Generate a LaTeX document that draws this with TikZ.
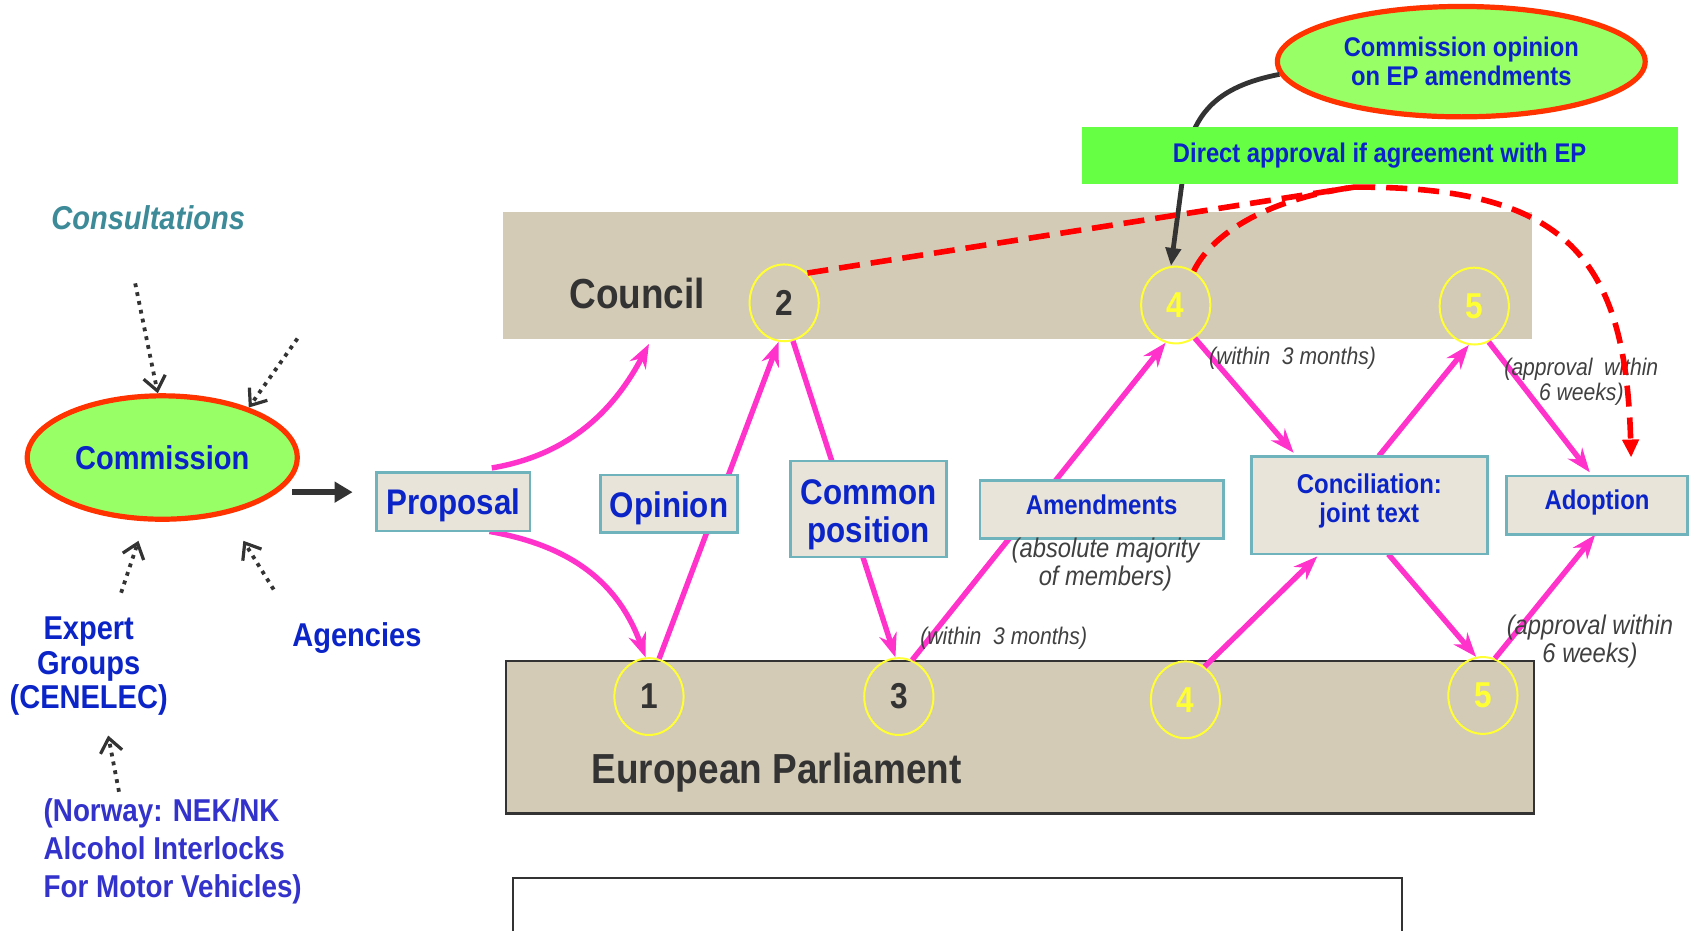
\documentclass[tikz,border=0pt]{standalone}
\usepackage{fontspec}
\setmainfont{Liberation Sans}[FakeStretch=0.88]
\usetikzlibrary{arrows.meta,shapes.geometric,calc}
\definecolor{pinkc}{HTML}{FF33CC}
\definecolor{bandc}{HTML}{D4CBB6}
\definecolor{boxc}{HTML}{E8E4DA}
\definecolor{boxb}{HTML}{6FB3BC}
\definecolor{bluet}{HTML}{0B24C8}
\definecolor{greenl}{HTML}{99FF66}
\definecolor{redb}{HTML}{FF3300}
\definecolor{greenr}{HTML}{66FF44}
\definecolor{tealt}{HTML}{3D8A99}
\definecolor{darkt}{HTML}{333333}
\definecolor{purplet}{HTML}{3333CC}
\definecolor{yel}{HTML}{FFFF33}
\definecolor{labt}{HTML}{404040}
\newcommand{\fsz}[2]{\fontsize{#1}{#2}\selectfont}
\begin{document}
\begin{tikzpicture}[x=0.5408pt,y=-0.5408pt,
  band/.style={fill=bandc, draw=none, inner sep=0pt},
  boxn/.style={rectangle, fill=boxc, draw=boxb, line width=1.3pt, inner sep=0pt},
  boxt/.style={text=bluet, align=center, inner sep=0pt},
  circn/.style={ellipse, draw=yel, line width=1pt, minimum width=34.6pt, minimum height=38.4pt, inner sep=0pt, font=\bfseries\fsz{18}{20}},
  pinkarr/.style={draw=pinkc, line width=2.7pt, -{Stealth[length=12pt,width=9pt]}},
  reddash/.style={draw=red, line width=2.8pt, dash pattern=on 10.5pt off 5.5pt},
  dotarr/.style={draw=darkt, line width=1.9pt, dash pattern=on 1.9pt off 2.6pt, -{Straight Barb[length=7pt,width=11pt,line width=1.6pt]}},
  lab/.style={text=labt, font=\itshape, align=center, inner sep=0pt},
  oval/.style={ellipse, fill=greenl, draw=redb, line width=2.6pt, text=bluet, font=\bfseries, align=center, inner sep=0pt}
]
\useasboundingbox (0,0) rectangle (1568,860);

% bands
\node[band, minimum width=514.3pt, minimum height=63.3pt] (council) at (940.5,254.5) {};
\node[fill=bandc, draw=darkt, line width=1.1pt, inner sep=0pt, minimum width=513.8pt, minimum height=76.3pt] (ep) at (943,681.5) {};
\node[text=darkt, font=\bfseries\fsz{21}{25}] (counciltxt) at (589,271) {Council};
\node[text=darkt, font=\bfseries\fsz{21}{25}] (eptxt) at (718,714) {European Parliament};

% bottom empty frame
\draw[darkt, line width=0.8pt] (474,870) -- (474,812) -- (1296,812) -- (1296,870);

% circles
\node[circn, text=darkt] (C2) at (725,280) {2};
\node[circn, text=yel] (C4) at (1087,282) {4};
\node[circn, text=yel] (C5) at (1363,283) {5};
\node[circn, text=darkt] (E1) at (600,644) {1};
\node[circn, text=darkt] (E3) at (831,644) {3};
\node[circn, text=yel] (E4) at (1096,647) {4};
\node[circn, text=yel] (E5) at (1371,643) {5};

% box geometry
\path node[minimum width=76.8pt, minimum height=29.2pt, inner sep=0pt] (prop) at (419,464) {};
\path node[minimum width=68.7pt, minimum height=28.7pt, inner sep=0pt] (opin) at (618.5,465.5) {};
\path node[minimum width=77.9pt, minimum height=48.1pt, inner sep=0pt] (comp) at (803,470.5) {};
\path node[minimum width=121.7pt, minimum height=29.2pt, inner sep=0pt] (amen) at (1018.5,471) {};
\path node[minimum width=117.9pt, minimum height=48.7pt, inner sep=0pt] (conc) at (1266,467) {};
\path node[minimum width=90.3pt, minimum height=29.2pt, inner sep=0pt] (adop) at (1476.5,467) {};

\coordinate (cb) at (600,318);
% pink arrows
\draw[pinkarr] ($(prop.north)!0.5!(prop.north east)+(0,-4)$) .. controls (530,420) and (570,375) .. (cb);
\draw[pinkarr] ($(prop.south)!0.47!(prop.south east)$) .. controls (530,505) and (572,540) .. (E1.95);
\draw[pinkarr] (E1.75) -- (C2.262);
\draw[pinkarr] (C2.283) -- (E3.95);
\draw[pinkarr] (E3.70) -- (C4.255);
\draw[pinkarr] (C4.300) -- ($(conc.north west)!0.18!(conc.north east)+(0,-3)$);
\draw[pinkarr] (E4.60) -- ($(conc.south west)!0.28!(conc.south east)+(0,2)$);
\draw[pinkarr] ($(conc.north west)!0.54!(conc.north east)$) -- (C5.262);
\draw[pinkarr] ($(conc.south west)!0.58!(conc.south east)$) -- (E5.100);
\draw[pinkarr] (C5.292) -- ($(adop.north west)!0.46!(adop.north east)+(0,-3)$);
\draw[pinkarr] (E5.72) -- ($(adop.south west)!0.49!(adop.south east)$);

% boxes drawn on top
\node[boxn, minimum width=76.8pt, minimum height=29.2pt] (propb) at (prop) {};
\node[boxn, minimum width=68.7pt, minimum height=28.7pt] (opinb) at (opin) {};
\node[boxn, minimum width=77.9pt, minimum height=48.1pt] (compb) at (comp) {};
\node[boxn, minimum width=121.7pt, minimum height=29.2pt] (amenb) at (amen) {};
\node[boxn, minimum width=117.9pt, minimum height=48.7pt] (concb) at (conc) {};
\node[boxn, minimum width=90.3pt, minimum height=29.2pt] (adopb) at (adop) {};
\node[boxt, font=\bfseries\fsz{17.8}{19}] at ($(prop)+(0,3)$) {Proposal};
\node[boxt, font=\bfseries\fsz{17.8}{19}] at ($(opin)+(0,4)$) {Opinion};
\node[boxt, font=\bfseries\fsz{17.8}{19}] at ($(comp)+(0,5)$) {Common\\position};
\node[boxt, font=\bfseries\fsz{13.6}{15}] at ($(amen)+(0,-4)$) {Amendments};
\node[boxt, font=\bfseries\fsz{13.6}{14.6}] at ($(conc)+(0,-4)$) {Conciliation:\\joint text};
\node[boxt, font=\bfseries\fsz{13.6}{15}] at ($(adop)+(0,-2)$) {Adoption};

% labels
\node[lab, font=\itshape\fsz{12}{12.5}] (l1) at (1195,331) {(within\ \ 3 months)};
\node[lab, font=\itshape\fsz{12}{12.5}] (l2) at (1462,353) {(approval\ \ within\\6 weeks)};
\node[lab, font=\itshape\fsz{13.5}{14}] (l3) at (1022,522) {(absolute majority\\of members)};
\node[lab, font=\itshape\fsz{12}{12.5}] (l4) at (928,590) {(within\ \ 3 months)};
\node[lab, font=\itshape\fsz{13.5}{14}] (l5) at (1470,593) {(approval within\\6 weeks)};

% Commission opinion and dark curve
\node[oval, minimum width=183.9pt, minimum height=55.2pt, font=\bfseries\fsz{13.5}{14.6}] (cop) at (1351,57) {Commission opinion\\on EP amendments};
\draw[darkt, line width=2.4pt, -{Triangle[length=9pt,width=7.5pt]}] (cop.184) .. controls (1125,80) and (1100,105) .. (1094,160) -- (C4.97);

% red dashed
\coordinate (rj) at (1252,173);
\coordinate (rend) at (1508,423);
\draw[reddash] (C2.52) -- (rj);
\draw[reddash, -{Triangle[length=9pt,width=8pt]}] (rj) .. controls (1450,172) and (1503,240) .. (rend);
\draw[reddash] (C4.62) .. controls (1118,220) and (1165,185) .. (rj);

% green rect
\node[fill=greenr, draw=none, inner sep=0pt, minimum width=298pt, minimum height=28.7pt, text=bluet, font=\bfseries\fsz{13.5}{15}] (direct) at (1275.5,143.5) {Direct approval if agreement with EP};

% left part
\node[oval, minimum width=135pt, minimum height=61.7pt, font=\bfseries\fsz{16.5}{18}] (comm) at (150,423) {Commission};
\node[text=tealt, font=\bfseries\itshape\fsz{16.5}{18}] (cons) at (137,201) {Consultations};
\node[text=bluet, font=\bfseries\fsz{16.5}{17.3}, align=center] (expert) at (82,616) {Expert\\Groups\\(CENELEC)};
\node[text=bluet, font=\bfseries\fsz{16.5}{18}] (agen) at (330,590) {Agencies};
\node[text=purplet, font=\bfseries\fsz{15.8}{19.2}, align=left, anchor=west, inner sep=0pt] (norw) at (40,787) {(Norway: NEK/NK\\Alcohol Interlocks\\For Motor Vehicles)};

\coordinate (d1s) at (125,262);
\coordinate (d2s) at (275,313);
\coordinate (d3s) at (112,548);
\coordinate (d3e) at (128,500);
\coordinate (d4s) at (253,545);
\coordinate (d4e) at (225,500);
\coordinate (d5s) at (110,732);
\coordinate (d5e) at (100,680);
\draw[dotarr] (d1s) -- (comm.94);
\draw[dotarr] (d2s) -- (comm.30);
\draw[dotarr] (d3s) -- (d3e);
\draw[dotarr] (d4s) -- (d4e);
\draw[dotarr] (d5s) -- (d5e);

\coordinate (ta) at (270,455);
\coordinate (tb) at (326,455);
\draw[darkt, line width=2.8pt, -{Triangle[length=9pt,width=10pt]}] (ta) -- (tb);
\end{tikzpicture}
\end{document}
